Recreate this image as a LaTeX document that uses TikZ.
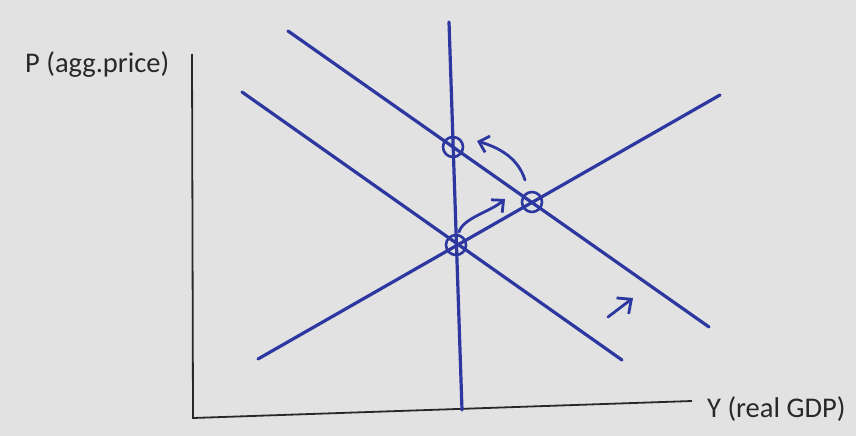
\documentclass[tikz,border=0pt]{standalone}
\usepackage{fontspec}
\setmainfont{Carlito}
\usetikzlibrary{arrows.meta}

\definecolor{pen}{RGB}{45,55,160}
\definecolor{paper}{RGB}{226,226,226}
\definecolor{ink}{RGB}{40,40,40}

\tikzstyle{curve} = [draw=pen, line width=3.2pt, line cap=round]
\tikzstyle{axis} = [draw=ink, line width=1.8pt]
\tikzstyle{eq} = [circle, draw=pen, line width=2.6pt, minimum size=20pt, inner sep=0pt]
\tikzstyle{axlabel} = [text=ink, font=\fontsize{28.5}{34}\selectfont, inner sep=0pt]
\tikzstyle{move} = [draw=pen, line width=2.8pt, line cap=round, -{Straight Barb[length=9pt,width=17pt]}]

\begin{document}
\begin{tikzpicture}[x=1pt,y=-1pt]
\fill[paper] (0,0) rectangle (856,436);
\useasboundingbox (0,0) rectangle (856,436);

% axes
\coordinate (ptop) at (192,54);
\coordinate (origin) at (193,418);
\coordinate (yend) at (692,401);
\draw[axis] (ptop) -- (origin) -- (yend);
\node[axlabel, anchor=base west] (plabel) at (25,73) {P (agg.price)};
\node[axlabel, anchor=base west] (ylabel) at (707,417) {Y (real GDP)};

% curves
\coordinate (lras top) at (449,22);
\coordinate (lras bot) at (462,410);
\coordinate (ad1 top) at (242,92);
\coordinate (ad1 bot) at (622,360);
\coordinate (ad2 top) at (288,31);
\coordinate (ad2 bot) at (709,327);
\coordinate (sras bot) at (258,359);
\coordinate (sras top) at (720,95);
\draw[curve] (lras top) -- (lras bot);
\draw[curve] (ad1 top) -- (ad1 bot);
\draw[curve] (ad2 top) -- (ad2 bot);
\draw[curve] (sras bot) -- (sras top);

% equilibria
\node[eq] (e1) at (456,245) {};
\node[eq] (e2) at (532,202) {};
\node[eq] (e3) at (453,147) {};

% movements
\coordinate (m1 from) at (459,232);
\coordinate (m1 to) at (505,199);
\coordinate (m2 from) at (525,180);
\coordinate (m2 to) at (477,141);
\coordinate (shift from) at (608,317);
\coordinate (shift to) at (633,298);
\draw[move] (m1 from) .. controls (463,218) and (490,212) .. (m1 to);
\draw[move] (m2 from) .. controls (518,158) and (500,148) .. (m2 to);
\draw[move, -{Straight Barb[length=11pt,width=20pt]}] (shift from) -- (shift to);
\end{tikzpicture}
\end{document}
